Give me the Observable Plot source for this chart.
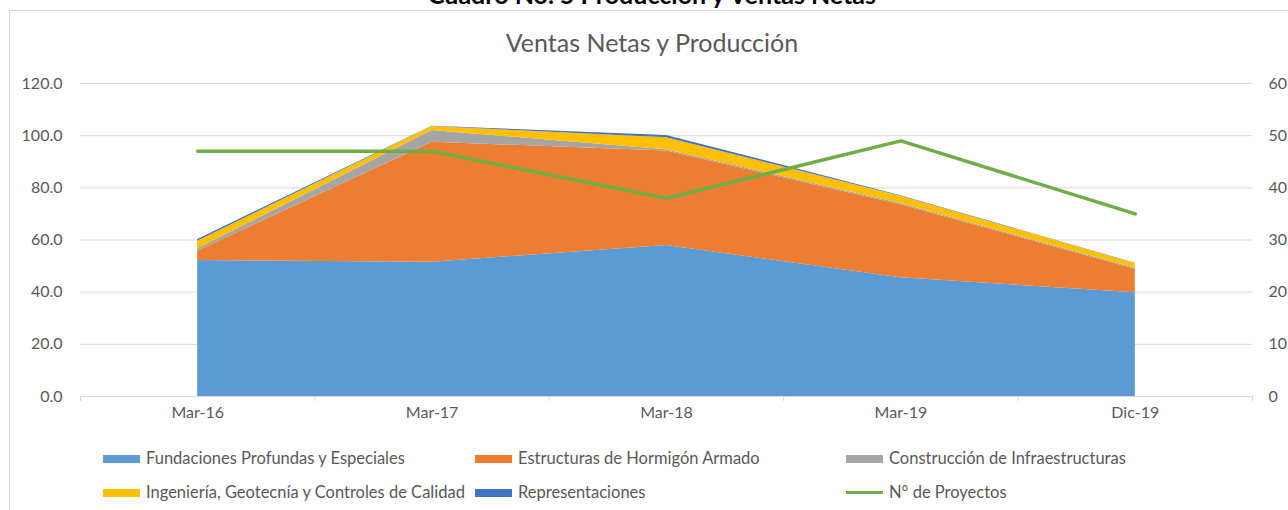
<!DOCTYPE html>
<html>
<head>
<meta charset="utf-8">
<script src="https://cdn.jsdelivr.net/npm/d3@7"></script>
<script src="https://cdn.jsdelivr.net/npm/@observablehq/plot@0.6"></script>
<style>
  html, body { margin: 0; padding: 0; background: #fff; width: 1288px; height: 510px; overflow: hidden; font-family: Lato, "Open Sans", sans-serif; }
  #page { position: relative; width: 1288px; height: 510px; overflow: hidden; }
  #frame { position: absolute; left: 9px; top: 10px; width: 1300px; height: 520px; border: 1px solid #d9d9d9; box-sizing: border-box; }
  #doctitle { position: absolute; left: 0; width: 1304px; top: -21px; text-align: center; font-weight: bold; font-size: 25px; color: #000; line-height: 30px; }
  #charttitle { position: absolute; left: 0; width: 1304px; top: 27px; text-align: center; font-size: 25px; color: #595959; line-height: 30px; }
  #chart { position: absolute; left: 0; top: 0; }
  .leg { position: absolute; font-size: 16.5px; color: #595959; white-space: nowrap; line-height: 18px; }
  .sw { display: inline-block; width: 37px; height: 8px; vertical-align: middle; margin-right: 6px; position: relative; top: -1px; }
  .ln { display: inline-block; width: 37px; height: 3px; vertical-align: middle; margin-right: 6px; position: relative; top: -1px; }
</style>
</head>
<body>
<div id="page">
  <div id="frame"></div>
  <div id="doctitle">Cuadro No. 5 Producción y Ventas Netas</div>
  <div id="chart"></div>
  <div id="charttitle">Ventas Netas y Producción</div>
  <div id="legend"></div>
</div>
<script>
// ---- data ----
const categories = ["Mar-16", "Mar-17", "Mar-18", "Mar-19", "Dic-19"];
const seriesNames = [
  "Fundaciones Profundas y Especiales",
  "Estructuras de Hormigón Armado",
  "Construcción de Infraestructuras",
  "Ingeniería, Geotecnía y Controles de Calidad",
  "Representaciones"
];
const fundaciones = [52.1, 51.5, 57.9, 45.5, 39.8];
const estructuras = [3.6, 46.0, 36.2, 28.0, 9.0];
const construccion = [0.9, 4.5, 0.5, 0.5, 0.4];
const ingenieria = [2.9, 1.5, 4.6, 2.8, 1.8];
const representaciones = [0.7, 0.1, 0.9, 0.2, 0.1];
const lineName = "N° de Proyectos";
const proyectos = [47, 47, 38, 49, 35];
const leftTicks = [0, 20, 40, 60, 80, 100, 120];
const rightTicks = [0, 10, 20, 30, 40, 50, 60];
const seriesColors = ["#5B9BD5", "#ED7D31", "#A5A5A5", "#FFC000", "#4472C4"];
const lineColor = "#70AD47";

// ---- build ----
const seriesValues = [fundaciones, estructuras, construccion, ingenieria, representaciones];
const areaData = [];
seriesNames.forEach((s, k) => seriesValues[k].forEach((v, i) => areaData.push({i, series: s, value: v})));
const lineData = proyectos.map((v, i) => ({i, value: v}));
const yMax = d3.max(leftTicks), y2Max = d3.max(rightTicks);
const ratio = yMax / y2Max;
const idx = d3.range(categories.length);
const bounds = d3.range(categories.length + 1).map(i => i - 0.5);

const textColor = "#595959";
const gridColor = "#d9d9d9";

const chart = Plot.plot({
  width: 1288,
  height: 430,
  marginTop: 83,
  marginBottom: 34,
  marginLeft: 80,
  marginRight: 36,
  style: {fontFamily: "Lato, 'Open Sans', sans-serif", fontSize: "16px", color: textColor, background: "transparent"},
  x: {type: "linear", domain: [-0.5, categories.length - 0.5]},
  y: {domain: [0, yMax]},
  color: {domain: seriesNames, range: seriesColors},
  marks: [
    Plot.gridY(leftTicks, {stroke: gridColor, strokeOpacity: 1, strokeWidth: 1}),
    Plot.areaY(areaData, {x: "i", y: "value", z: "series", fill: "series", curve: "linear"}),
    Plot.lineY(lineData, {x: "i", y: d => d.value * ratio, stroke: lineColor, strokeWidth: 3.5, curve: "linear"}),
    Plot.ruleY([0], {stroke: gridColor, strokeWidth: 1}),
    Plot.axisY(leftTicks, {anchor: "left", tickSize: 0, tickPadding: 18, tickFormat: d => d.toFixed(1), fill: textColor, fontSize: 16, label: null}),
    Plot.axisY(rightTicks.map(d => d * ratio), {anchor: "right", tickSize: 0, tickPadding: 16, tickFormat: d => String(d / ratio), fill: textColor, fontSize: 16, textAnchor: "start", label: null}),
    Plot.axisX(idx, {anchor: "bottom", tickSize: 0, tickPadding: 10, tickFormat: i => categories[i], fill: textColor, fontSize: 16, label: null}),
    Plot.axisX(bounds, {anchor: "bottom", tickSize: 5, tickFormat: () => "", stroke: gridColor, label: null})
  ]
});
document.getElementById("chart").appendChild(chart);

// ---- legend ----
const legend = document.getElementById("legend");
const items = seriesNames.map((s, k) => ({name: s, color: seriesColors[k], line: false}));
items.push({name: lineName, color: lineColor, line: true});
const colX = [103, 475, 846];
const rowY = [449, 483];
items.forEach((it, k) => {
  const d = document.createElement("div");
  d.className = "leg";
  d.style.left = colX[k % 3] + "px";
  d.style.top = rowY[Math.floor(k / 3)] + "px";
  const sw = document.createElement("span");
  sw.className = it.line ? "ln" : "sw";
  sw.style.background = it.color;
  d.appendChild(sw);
  d.appendChild(document.createTextNode(it.name));
  legend.appendChild(d);
});
</script>
</body>
</html>
